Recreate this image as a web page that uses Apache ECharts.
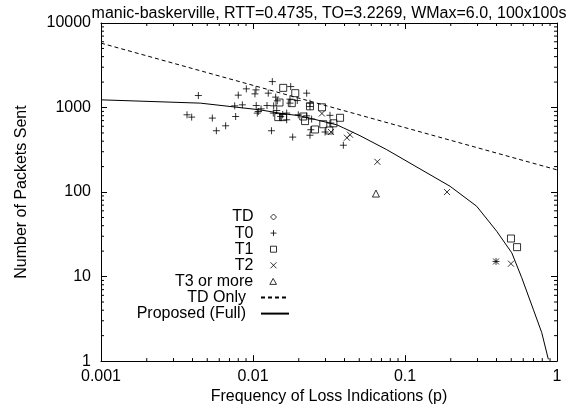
<!DOCTYPE html>
<html><head><meta charset="utf-8">
<script src="https://cdn.jsdelivr.net/npm/echarts@6/dist/echarts.min.js"></script>
<style>html,body{margin:0;padding:0;background:#fff}#c{width:582px;height:410px}</style>
</head><body><div id="c"></div>
<script>
const xTickLabels = ['0.001', '0.01', '0.1', '1'];
const yTickLabels = ['1', '10', '100', '1000', '10000'];

const tdP = [];
const tdN = [];

const t0P = [0.00437, 0.00368, 0.00395, 0.00540, 0.00574, 0.00661, 0.00769, 0.00758, 0.0080, 0.00851,
  0.00904, 0.0103, 0.01046, 0.0105, 0.01067, 0.0134, 0.0126, 0.0113, 0.01236, 0.01368,
  0.0141, 0.01445, 0.01432, 0.01521, 0.0177, 0.01666, 0.01824, 0.02255, 0.01323, 0.0237,
  0.0240, 0.0321, 0.0298, 0.0393, 0.02255, 0.0175, 0.0237, 0.01666, 0.01986, 0.0243,
  0.01083, 0.0136, 0.01955, 0.0237, 0.0325, 0.01568, 0.397, 0.0175];
const t0N = [1386, 820, 770, 750, 531, 608, 783, 1047, 1401, 1076,
  1663, 1451, 1618, 1056, 859, 2027, 1479, 965, 1056, 1047,
  1327, 1200, 922, 783, 1770, 716, 447, 1479, 531, 470,
  546, 809, 513, 358, 798, 1127, 1127, 859, 820, 730,
  897, 859, 1209, 1027, 655, 827, 15.1, 1256];

const t1P = [0.0158, 0.01897, 0.01494, 0.01466, 0.01575, 0.0180, 0.0237, 0.02143, 0.0220, 0.0256,
  0.02844, 0.029, 0.03177, 0.0338, 0.0374, 0.498, 0.546];
const t1N = [1708, 1479, 1146, 770, 770, 1127, 1033, 783, 691, 550,
  1006, 634, 535, 651, 756, 28.2, 22.3];

const t2P = [0.0284, 0.0326, 0.0415, 0.0435, 0.0658, 0.189, 0.397, 0.498];
const t2N = [850, 514, 439, 476, 228, 100, 15.1, 14.2];

const t3P = [0.0644];
const t3N = [96];

const tdOnlyP = [0.001, 1];
const tdOnlyN = [5780, 183];

const fullP = [0.001, 0.0045, 0.0111, 0.0158, 0.0204, 0.0355, 0.0393, 0.0506, 0.0759, 0.198,
  0.296, 0.401, 0.504, 0.586, 0.698, 0.793, 0.877];
const fullN = [1233, 1127, 939, 845, 798, 625, 575, 464, 317, 117,
  68, 34.4, 19.1, 9.7, 4.1, 2.18, 1.05];

const FONT = '"Liberation Sans", Arial, Helvetica, sans-serif';
const X_MIN = 0.001, X_MAX = 1, Y_MIN = 1, Y_MAX = 10000;

function pairs(a, b) { return a.map(function (v, i) { return [v, b[i]]; }); }
function labelFor(list) {
  return function (v) {
    let best = list[0], bd = Infinity;
    list.forEach(function (s) { const d = Math.abs(Math.log10(parseFloat(s)) - Math.log10(v)); if (d < bd) { bd = d; best = s; } });
    return best;
  };
}

// minor tick positions (2..9 per decade)
const minorTicks = [];
for (let e = -3; e < 0; e++) for (let k = 2; k <= 9; k++) minorTicks.push([k * Math.pow(10, e), 1, 0]);
for (let e = 0; e < 4; e++) for (let k = 2; k <= 9; k++) minorTicks.push([0.001, k * Math.pow(10, e), 1]);

const sym = {
  plus: 'path://M0,-1V1M-1,0H1',
  cross: 'path://M-1,-1L1,1M-1,1L1,-1',
  square: 'path://M-1,-1H1V1H-1Z',
  triangle: 'path://M0,-1L1,0.8H-1Z',
  diamond: 'path://M0,-1L1,0L0,1L-1,0Z'
};
const markStyle = { color: 'rgba(0,0,0,0)', borderColor: '#000', borderWidth: 1 };

function scatter(name, p, n, symbol, size) {
  return { name: name, type: 'scatter', data: pairs(p, n), symbol: symbol, symbolSize: size,
    itemStyle: markStyle, silent: true, z: 3 };
}

const legendNames = ['TD', 'T0', 'T1', 'T2', 'T3 or more', 'TD Only', 'Proposed (Full)'];
const legends = legendNames.map(function (nm, i) {
  const isLine = i >= 5;
  return { data: [nm], orient: 'horizontal', align: 'right', right: isLine ? 292 : 305,
    top: 217 + 16.1 * i - 8, itemWidth: isLine ? 28 : 10, itemHeight: isLine ? 5 : 6, padding: 0,
    selectedMode: false,
    itemStyle: isLine ? { opacity: 0 } : { color: 'rgba(0,0,0,0)', borderColor: '#000', borderWidth: 1 },
    formatter: '{t|{name}}',
    textStyle: { fontFamily: FONT, fontSize: 16, color: '#000', lineHeight: 16,
      rich: { t: { fontFamily: FONT, fontSize: 16, color: '#000', lineHeight: 16, padding: [0, 10, 0, 0] } } } };
});

const axisLineStyle = { color: '#000', width: 1 };
const chart = echarts.init(document.getElementById('c'), null, { renderer: 'canvas' });
chart.setOption({
  animation: false,
  backgroundColor: '#fff',
  title: { text: 'manic-baskerville, RTT=0.4735, TO=3.2269, WMax=6.0, 100x100s', left: 329, top: 5,
    textAlign: 'center', padding: 0,
    textStyle: { fontFamily: FONT, fontSize: 16, fontWeight: 'normal', color: '#000', lineHeight: 18 } },
  grid: { left: 101, right: 25, top: 23, bottom: 48 },
  legend: legends,
  xAxis: [
    { type: 'log', logBase: 10, min: X_MIN, max: X_MAX, position: 'bottom',
      name: 'Frequency of Loss Indications (p)', nameLocation: 'middle', nameGap: 19,
      nameTextStyle: { fontFamily: FONT, fontSize: 16, color: '#000' },
      axisLine: { lineStyle: axisLineStyle }, axisTick: { inside: true, length: 6, lineStyle: axisLineStyle },
      axisLabel: { fontFamily: FONT, fontSize: 16, color: '#000', margin: 7, formatter: labelFor(xTickLabels) },
      splitLine: { show: false }, minorTick: { show: false } },
    { type: 'log', logBase: 10, min: X_MIN, max: X_MAX, position: 'top',
      axisLine: { lineStyle: axisLineStyle }, axisTick: { inside: true, length: 6, lineStyle: axisLineStyle },
      axisLabel: { show: false }, splitLine: { show: false } }
  ],
  yAxis: [
    { type: 'log', logBase: 10, min: Y_MIN, max: Y_MAX, position: 'left',
      name: 'Number of Packets Sent', nameLocation: 'middle', nameGap: 71,
      nameTextStyle: { fontFamily: FONT, fontSize: 16, color: '#000' },
      axisLine: { lineStyle: axisLineStyle }, axisTick: { inside: true, length: 6, lineStyle: axisLineStyle },
      axisLabel: { fontFamily: FONT, fontSize: 16, color: '#000', margin: 10, formatter: labelFor(yTickLabels) },
      splitLine: { show: false } },
    { type: 'log', logBase: 10, min: Y_MIN, max: Y_MAX, position: 'right',
      axisLine: { lineStyle: axisLineStyle }, axisTick: { inside: true, length: 6, lineStyle: axisLineStyle },
      axisLabel: { show: false }, splitLine: { show: false } }
  ],
  series: [
    scatter('TD', tdP, tdN, sym.diamond, 7),
    scatter('T0', t0P, t0N, sym.plus, 7),
    scatter('T1', t1P, t1N, sym.square, 7),
    scatter('T2', t2P, t2N, sym.cross, 6),
    scatter('T3 or more', t3P, t3N, sym.triangle, 7),
    { name: 'TD Only', type: 'line', data: pairs(tdOnlyP, tdOnlyN), symbol: 'none', showSymbol: false,
      lineStyle: { color: '#000', width: 1, type: [4, 3] }, itemStyle: { color: '#000' }, silent: true, z: 4 },
    { name: 'Proposed (Full)', type: 'line', data: pairs(fullP, fullN), symbol: 'none', showSymbol: false,
      lineStyle: { color: '#000', width: 1 }, itemStyle: { color: '#000' }, silent: true, z: 4 },
    { name: 'minorTicks', type: 'custom', data: minorTicks, encode: { x: 0, y: 1 }, silent: true, clip: false, z: 5,
      renderItem: function (params, api) {
        const v0 = api.value(0), v1 = api.value(1), kind = api.value(2), L = 3;
        const st = { stroke: '#000', lineWidth: 1 };
        if (kind === 0) {
          const b = api.coord([v0, Y_MIN]), t = api.coord([v0, Y_MAX]);
          return { type: 'group', children: [
            { type: 'line', shape: { x1: b[0], y1: b[1], x2: b[0], y2: b[1] - L }, style: st },
            { type: 'line', shape: { x1: t[0], y1: t[1], x2: t[0], y2: t[1] + L }, style: st }] };
        }
        const l = api.coord([X_MIN, v1]), r = api.coord([X_MAX, v1]);
        return { type: 'group', children: [
          { type: 'line', shape: { x1: l[0], y1: l[1], x2: l[0] + L, y2: l[1] }, style: st },
          { type: 'line', shape: { x1: r[0], y1: r[1], x2: r[0] - L, y2: r[1] }, style: st }] };
      } }
  ]
});
</script>
</body></html>
